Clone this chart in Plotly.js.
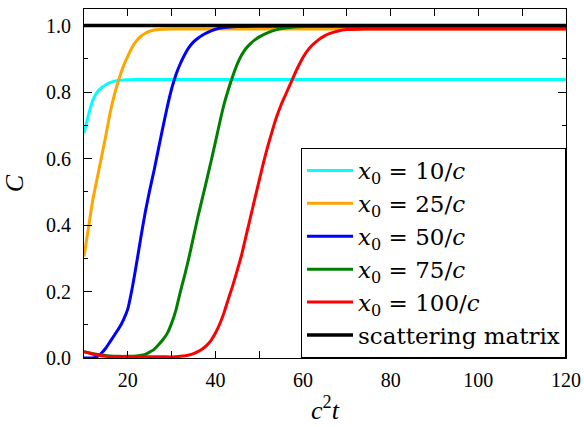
<!DOCTYPE html>
<html>
<head>
<meta charset="utf-8">
<script src="https://cdn.plot.ly/plotly-3.0.1.min.js"></script>
<style>html,body{margin:0;padding:0;background:#fff;}</style>
</head>
<body>
<div id="chart" style="width:584px;height:427px;"></div>
<script>
var names = ["<i>x</i><sub>0</sub> = 10/<i>c</i>", "<i>x</i><sub>0</sub> = 25/<i>c</i>", "<i>x</i><sub>0</sub> = 50/<i>c</i>", "<i>x</i><sub>0</sub> = 75/<i>c</i>", "<i>x</i><sub>0</sub> = 100/<i>c</i>", "scattering matrix"];
var colors = ["#00ffff", "#ffa500", "#0000ff", "#008000", "#ff0000", "#000000"];

var x10 = [10, 11, 12, 13, 14, 15, 16, 17, 18, 20, 22, 25, 30, 40, 60, 80, 100, 120];
var y10 = [0.677, 0.73, 0.775, 0.800, 0.813, 0.822, 0.829, 0.833, 0.835, 0.837, 0.838, 0.838, 0.838, 0.838, 0.838, 0.838, 0.838, 0.838];

var x25 = [10, 11, 12, 13, 14, 15, 16, 17, 18, 19, 20, 21, 22, 23, 24, 25, 26, 28, 30, 35, 40, 60, 80, 100, 120];
var y25 = [0.305, 0.39, 0.475, 0.54, 0.605, 0.67, 0.74, 0.795, 0.84, 0.878, 0.908, 0.935, 0.955, 0.968, 0.977, 0.983, 0.987, 0.989, 0.99, 0.99, 0.99, 0.99, 0.99, 0.99, 0.99];

var x50 = [10, 12, 13, 14, 15, 16, 17, 18, 19, 20, 21, 22, 23, 24, 25, 26, 27, 28, 29, 30, 31, 32, 33, 34, 35, 36, 37, 38, 40, 42, 45, 50, 60, 80, 100, 120];
var y50 = [0.0, 0.0, 0.004, 0.015, 0.03, 0.05, 0.07, 0.09, 0.115, 0.148, 0.21, 0.285, 0.365, 0.44, 0.505, 0.565, 0.63, 0.694, 0.755, 0.81, 0.853, 0.886, 0.913, 0.935, 0.951, 0.962, 0.971, 0.978, 0.989, 0.994, 0.997, 0.998, 0.998, 0.998, 0.998, 0.998];

var x75 = [10, 12, 14, 16, 18, 20, 22, 24, 25, 26, 27, 28, 29, 30, 31, 32, 33, 34, 35, 36, 37, 38, 39, 40, 41, 42, 43, 44, 45, 46, 47, 48, 49, 50, 52, 54, 56, 58, 62, 80, 100, 120];
var y75 = [0.019, 0.013, 0.009, 0.006, 0.005, 0.005, 0.006, 0.011, 0.018, 0.026, 0.04, 0.055, 0.074, 0.105, 0.145, 0.2, 0.25, 0.305, 0.365, 0.425, 0.48, 0.535, 0.592, 0.65, 0.71, 0.765, 0.81, 0.85, 0.885, 0.912, 0.932, 0.946, 0.957, 0.966, 0.979, 0.988, 0.993, 0.996, 0.998, 0.998, 0.998, 0.998];

var x100 = [10, 12, 14, 16, 18, 20, 25, 28, 30, 32, 34, 35, 36, 37, 38, 39, 40, 41, 42, 43, 44, 45, 46, 47, 48, 49, 50, 51, 52, 53, 54, 55, 56, 57, 58, 59, 60, 61, 62, 63, 64, 65, 66, 68, 70, 74, 80, 100, 120];
var y100 = [0.019, 0.012, 0.007, 0.004, 0.003, 0.003, 0.004, 0.004, 0.003, 0.005, 0.009, 0.013, 0.019, 0.027, 0.038, 0.053, 0.075, 0.103, 0.138, 0.18, 0.22, 0.265, 0.312, 0.368, 0.424, 0.48, 0.535, 0.59, 0.64, 0.685, 0.727, 0.762, 0.792, 0.822, 0.852, 0.88, 0.905, 0.925, 0.94, 0.952, 0.962, 0.97, 0.976, 0.984, 0.988, 0.99, 0.99, 0.99, 0.99];

var xS = [10, 120];
var yS = [1.0, 1.0];

var xs = [x10, x25, x50, x75, x100, xS];
var ys = [y10, y25, y50, y75, y100, yS];

var traces = xs.map(function (xv, i) {
  return {
    x: xv, y: ys[i], name: names[i], type: 'scatter', mode: 'lines',
    line: {color: colors[i], width: i === 5 ? 3.5 : 3, shape: 'spline', smoothing: 0.5}
  };
});

var serif = 'Liberation Serif, Times New Roman, serif';
var legendSerif = 'DejaVu Serif, Liberation Serif, serif';
var layout = {
  width: 584, height: 427,
  margin: {l: 83.5, r: 18, t: 9, b: 69, pad: 0},
  paper_bgcolor: '#fff', plot_bgcolor: '#fff',
  showlegend: true,
  xaxis: {
    range: [10, 120], dtick: 20, tick0: 0,
    ticks: 'inside', ticklen: 7, tickwidth: 1, tickcolor: '#000',
    showline: true, linecolor: '#000', linewidth: 1, mirror: 'ticks',
    showgrid: false, zeroline: false,
    minor: {dtick: 10, tick0: 0, ticks: 'inside', ticklen: 7, tickcolor: '#000', showgrid: false},
    tickfont: {family: serif, size: 20, color: '#000'},
    ticklabelstandoff: 4,
    title: {text: '<i>c</i><sup>2</sup><i>t</i>', font: {family: serif, size: 26, color: '#000'}, standoff: 10}
  },
  yaxis: {
    range: [0, 1.05], dtick: 0.2, tick0: 0, tickformat: '.1f',
    ticks: 'inside', ticklen: 8, tickwidth: 1, tickcolor: '#000',
    showline: true, linecolor: '#000', linewidth: 1, mirror: 'ticks',
    showgrid: false, zeroline: false,
    minor: {dtick: 0.1, tick0: 0, ticks: 'inside', ticklen: 4, tickcolor: '#000', showgrid: false},
    tickfont: {family: serif, size: 20, color: '#000'},
    ticklabelstandoff: 8,
    title: {text: '<i>C</i>', font: {family: serif, size: 26, color: '#000'}, standoff: 14}
  },
  legend: {
    x: 1, xanchor: 'right', y: 0, yanchor: 'bottom',
    bgcolor: '#fff', bordercolor: '#000', borderwidth: 1,
    font: {family: legendSerif, size: 23, color: '#000'},
    itemwidth: 46
  }
};

Plotly.newPlot('chart', traces, layout, {staticPlot: true, displayModeBar: false});
</script>
</body>
</html>
